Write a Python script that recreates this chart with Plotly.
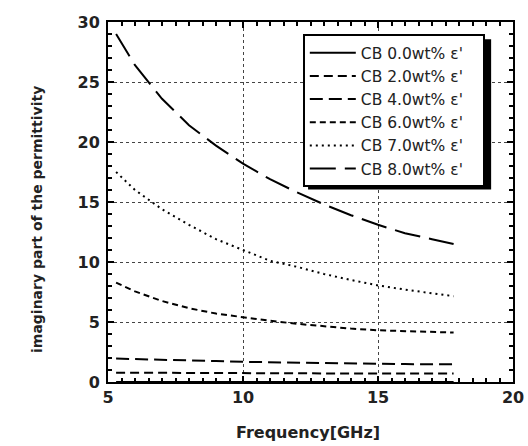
import plotly.graph_objects as go

freq = [5.3, 6, 7, 8, 9, 10, 11, 12, 13, 14, 15, 16, 17, 17.8]
cb00 = [0.0, 0.0, 0.0, 0.0, 0.0, 0.0, 0.0, 0.0, 0.0, 0.0, 0.0, 0.0, 0.0, 0.0]
cb20 = [0.78, 0.77, 0.76, 0.75, 0.74, 0.73, 0.72, 0.72, 0.71, 0.71, 0.70, 0.70, 0.70, 0.70]
cb40 = [1.95, 1.92, 1.86, 1.80, 1.74, 1.68, 1.64, 1.60, 1.56, 1.53, 1.50, 1.49, 1.48, 1.48]
cb60 = [8.28, 7.55, 6.75, 6.15, 5.70, 5.37, 5.10, 4.85, 4.62, 4.45, 4.31, 4.22, 4.15, 4.12]
cb70 = [17.5, 16.0, 14.4, 13.1, 11.9, 11.0, 10.1, 9.6, 9.0, 8.5, 8.05, 7.7, 7.4, 7.15]
cb80 = [29.0, 26.4, 23.6, 21.4, 19.7, 18.2, 16.9, 15.8, 14.8, 13.9, 13.1, 12.4, 11.9, 11.5]

names = ["CB 0.0wt% ε'", "CB 2.0wt% ε'", "CB 4.0wt% ε'",
         "CB 6.0wt% ε'", "CB 7.0wt% ε'", "CB 8.0wt% ε'"]
series = [cb00, cb20, cb40, cb60, cb70, cb80]
dashes = ["solid", "9px,5px", "13px,6px", "6px,4px", "2px,4px", "26px,9px"]

fig = go.Figure()
for n, s, d in zip(names, series, dashes):
    fig.add_trace(go.Scatter(x=freq, y=s, mode="lines", name=n + "\u00a0\u00a0\u00a0",
                             line=dict(color="black", width=2, dash=d)))

axis_common = dict(
    showline=True, linecolor="black", linewidth=2, mirror="ticks",
    ticks="inside", ticklen=6, tickwidth=2, tickcolor="black",
    showgrid=True, gridcolor="#444", griddash="dot", gridwidth=1,
    zeroline=False, automargin=False,
    tickfont=dict(family="DejaVu Sans", size=16, color="#222", weight="bold"),
)

fig.update_xaxes(range=[5, 20], dtick=5, **axis_common,
                 minor=dict(dtick=0.5, ticks="inside", ticklen=4, tickwidth=1.5,
                            tickcolor="black", showgrid=False))
fig.update_yaxes(range=[0, 30], dtick=5, **axis_common, ticklabelstandoff=3,
                 minor=dict(dtick=1, ticks="inside", ticklen=4, tickwidth=1.5,
                            tickcolor="black", showgrid=False))

fig.add_annotation(text="imaginary part of the permittivity", textangle=-90,
                   xref="paper", yref="paper", x=(37 - 108) / 405, y=0.45,
                   xanchor="center", yanchor="middle", showarrow=False,
                   font=dict(family="DejaVu Sans", size=14, color="#222", weight="bold"))
fig.add_annotation(text="Frequency[GHz]",
                   xref="paper", yref="paper", x=(308 - 108) / 405, y=(381.7 - 432) / 360,
                   xanchor="center", yanchor="middle", showarrow=False,
                   font=dict(family="DejaVu Sans", size=16, color="#222", weight="bold"))

fig.add_shape(type="rect", xref="paper", yref="paper",
              x0=0.494, x1=0.946, y0=0.535, y1=0.952,
              fillcolor="black", line=dict(width=0), layer="above")

fig.update_layout(
    width=528, height=446,
    margin=dict(l=108, r=15, t=22, b=64),
    plot_bgcolor="white", paper_bgcolor="white",
    legend=dict(x=0.481, y=0.966, xanchor="left", yanchor="top",
                bgcolor="white", bordercolor="black", borderwidth=2,
                font=dict(family="DejaVu Sans", size=15.5, color="#222"),
                tracegroupgap=0, itemwidth=46),
    showlegend=True,
)

fig.write_html("out.html")
